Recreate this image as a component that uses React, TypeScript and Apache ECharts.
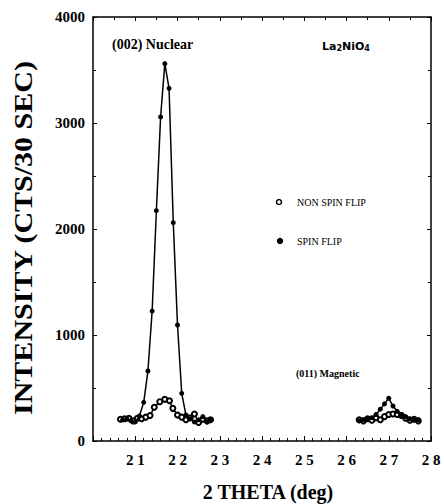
import React, { useEffect, useRef } from "react";
import * as echarts from "echarts";

// 2-theta positions and intensities (cts / 30 sec)
const nucSpinX = [20.7, 20.8, 20.9, 21.0, 21.1, 21.2, 21.3, 21.4, 21.5, 21.6, 21.7, 21.8, 21.9, 22.0, 22.1, 22.2, 22.3, 22.4, 22.5, 22.6, 22.7, 22.8];
const nucSpinY = [200, 210, 190, 180, 236, 365, 660, 1226, 2173, 3057, 3560, 3327, 2060, 1094, 450, 245, 210, 180, 200, 230, 180, 200];

const nucNonX = [20.65, 20.75, 20.85, 20.95, 21.05, 21.15, 21.25, 21.35, 21.45, 21.58, 21.7, 21.81, 21.89, 22.0, 22.1, 22.2, 22.3, 22.4, 22.5, 22.6, 22.7, 22.78];
const nucNonY = [205, 210, 215, 190, 215, 210, 225, 240, 318, 371, 393, 380, 308, 245, 225, 200, 220, 255, 175, 205, 190, 200];

const magSpinX = [26.3, 26.4, 26.5, 26.6, 26.7, 26.8, 26.9, 27.0, 27.1, 27.2, 27.3, 27.4, 27.5, 27.6, 27.7];
const magSpinY = [190, 200, 210, 220, 250, 300, 350, 403, 330, 280, 250, 230, 210, 200, 200];

const magNonX = [26.3, 26.4, 26.5, 26.6, 26.7, 26.8, 26.9, 27.0, 27.1, 27.2, 27.3, 27.4, 27.5, 27.6, 27.7];
const magNonY = [200, 190, 210, 195, 220, 200, 230, 250, 255, 250, 240, 215, 195, 205, 190];

const yTicks = [0, 1000, 2000, 3000, 4000];
const xTicks = [21, 22, 23, 24, 25, 26, 27, 28];

const zip = (xs: number[], ys: number[]) => xs.map((x, i) => [x, ys[i]]);

export default function App() {
  const ref = useRef<HTMLDivElement>(null);
  useEffect(() => {
    if (!ref.current) return;
    const chart = echarts.init(ref.current, null, { renderer: "svg" });
    const serif = "Liberation Serif";
    const lineStyle = { color: "#000", width: 1.5 };
    const spin = { type: "line", symbol: "circle", symbolSize: 5, itemStyle: { color: "#000" }, lineStyle, z: 3 };
    const non = { type: "line", symbol: "emptyCircle", symbolSize: 5, itemStyle: { color: "#000", borderWidth: 1.2 }, lineStyle, z: 2 };
    const tick = { show: true, inside: true, length: 4, lineStyle: { color: "#000", width: 1 } };
    const minor = { show: true, splitNumber: 2, length: 3, lineStyle: { color: "#000", width: 1 } };
    const axisCommon = {
      type: "value",
      axisLine: { show: true, onZero: false, lineStyle: { color: "#000", width: 1.5 } },
      splitLine: { show: false },
      minorSplitLine: { show: false },
    };
    chart.setOption({
      animation: false,
      backgroundColor: "#fff",
      grid: { left: 93, right: 13, top: 17, bottom: 63 },
      xAxis: [
        {
          ...axisCommon,
          position: "bottom",
          min: 20,
          max: 28,
          interval: 1,
          axisTick: { ...tick, length: 5 },
          minorTick: { ...minor, splitNumber: 5 },
          axisLabel: {
            margin: 11,
            color: "#000",
            fontFamily: serif,
            fontWeight: "bold",
            fontSize: 15,
            formatter: (v: number) => (xTicks.includes(v) ? String(v).split("").join(" ") : ""),
          },
        },
        {
          ...axisCommon,
          position: "top",
          min: 20,
          max: 28,
          interval: 1,
          axisTick: tick,
          minorTick: minor,
          axisLabel: { show: false },
        },
      ],
      yAxis: [
        {
          ...axisCommon,
          position: "left",
          min: 0,
          max: 4000,
          interval: 1000,
          axisTick: tick,
          minorTick: minor,
          axisLabel: {
            margin: 8,
            color: "#000",
            fontFamily: serif,
            fontWeight: "bold",
            fontSize: 15,
            formatter: (v: number) => (yTicks.includes(v) ? String(v) : ""),
          },
        },
        {
          ...axisCommon,
          position: "right",
          min: 0,
          max: 4000,
          interval: 1000,
          axisTick: tick,
          minorTick: minor,
          axisLabel: { show: false },
        },
      ],
      series: [
        { ...non, name: "NON SPIN FLIP", data: zip(nucNonX, nucNonY) },
        { ...non, name: "NON SPIN FLIP", data: zip(magNonX, magNonY) },
        { ...spin, name: "SPIN FLIP", data: zip(nucSpinX, nucSpinY) },
        { ...spin, name: "SPIN FLIP", data: zip(magSpinX, magSpinY) },
      ],
      graphic: [
        {
          type: "text",
          x: 23,
          y: 238,
          rotation: Math.PI / 2,
          scaleX: 1.2,
          style: {
            text: "INTENSITY (CTS/30 SEC)",
            fontFamily: serif,
            fontWeight: "bold",
            fontSize: 25,
            fill: "#000",
            align: "center",
            verticalAlign: "middle",
          },
        },
        {
          type: "text",
          x: 268,
          y: 492,
          style: {
            text: "2 THETA (deg)",
            fontFamily: serif,
            fontWeight: "bold",
            fontSize: 20,
            fill: "#000",
            align: "center",
            verticalAlign: "middle",
          },
        },
        {
          type: "text",
          x: 112,
          y: 44,
          style: {
            text: "(002) Nuclear",
            fontFamily: serif,
            fontWeight: "bold",
            fontSize: 14,
            fill: "#000",
            align: "left",
            verticalAlign: "middle",
          },
        },
        {
          type: "text",
          x: 296,
          y: 373,
          style: {
            text: "(011) Magnetic",
            fontFamily: serif,
            fontWeight: "bold",
            fontSize: 10,
            fill: "#000",
            align: "left",
            verticalAlign: "middle",
          },
        },
        {
          type: "text",
          x: 322,
          y: 45,
          style: {
            text: "{b|La}{s|2}{b|NiO}{s|4}",
            verticalAlign: "middle",
            align: "left",
            rich: {
              b: { fontFamily: "DejaVu Sans", fontWeight: "bold", fontSize: 11, fill: "#000", verticalAlign: "bottom" },
              s: { fontFamily: "DejaVu Sans", fontWeight: "bold", fontSize: 8, fill: "#000", padding: [6, 0, 0, 0], verticalAlign: "bottom" },
            },
          },
        },
        { type: "circle", shape: { cx: 279, cy: 202, r: 2.5 }, style: { fill: "#fff", stroke: "#000", lineWidth: 1.5 } },
        {
          type: "text",
          x: 297,
          y: 202,
          style: { text: "NON SPIN FLIP", fontFamily: serif, fontSize: 10, fill: "#000", verticalAlign: "middle" },
        },
        { type: "circle", shape: { cx: 280, cy: 241, r: 3.2 }, style: { fill: "#000" } },
        {
          type: "text",
          x: 297,
          y: 241,
          style: { text: "SPIN FLIP", fontFamily: serif, fontSize: 10, fill: "#000", verticalAlign: "middle" },
        },
      ],
    });
    return () => chart.dispose();
  }, []);
  return <div ref={ref} style={{ position: "fixed", left: 0, top: 0, width: 444, height: 504 }} />;
}
